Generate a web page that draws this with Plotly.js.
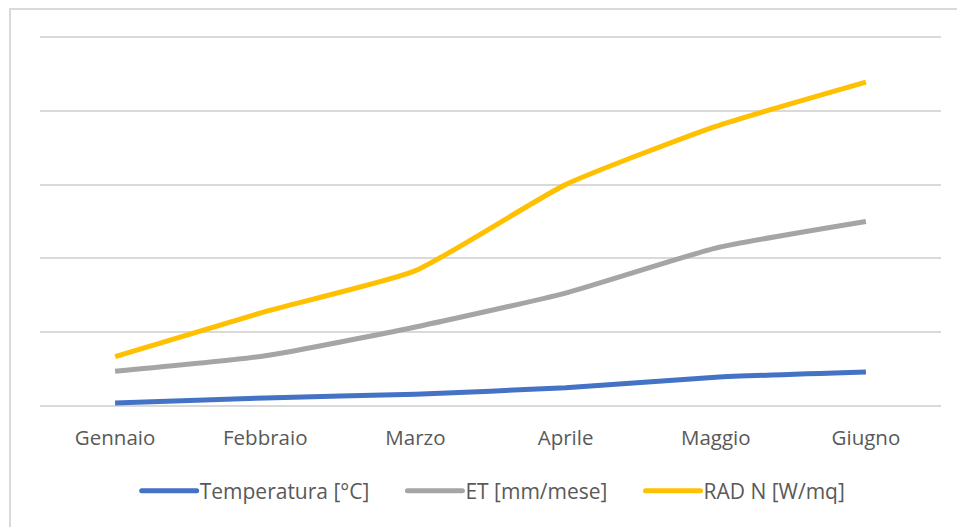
<!DOCTYPE html>
<html>
<head>
<meta charset="utf-8">
<script src="https://cdn.plot.ly/plotly-3.0.1.min.js"></script>
<style>
  html, body { margin: 0; padding: 0; background: #ffffff; }
  #wrap { position: relative; width: 957px; height: 527px; overflow: hidden; }
  #chart { position: absolute; left: 0; top: 0; width: 957px; height: 527px; }
  #frame { position: absolute; left: 9px; top: 8px; width: 1000px; height: 600px;
           border-top: 2px solid #D9D9D9; border-left: 2px solid #D9D9D9; pointer-events: none; }
</style>
</head>
<body>
<div id="wrap">
  <div id="chart"></div>
  <div id="frame"></div>
</div>
<script>
const months = ["Gennaio", "Febbraio", "Marzo", "Aprile", "Maggio", "Giugno"];
const temperatura = [2, 5.5, 8, 12.4, 19.5, 23];
const et = [23.5, 34, 53.5, 76.5, 107, 125];
const rad = [33.5, 64, 91.7, 150, 189.5, 219.5];

const seriesNames = ["Temperatura [°C]", "ET [mm/mese]", "RAD N [W/mq]"];
const seriesColors = ["#4472C4", "#A5A5A5", "#FFC000"];
const seriesValues = [temperatura, et, rad];

const traces = seriesValues.map((vals, i) => ({
  type: "scatter",
  mode: "lines",
  x: months,
  y: vals,
  name: seriesNames[i],
  line: { color: seriesColors[i], width: 5, shape: "spline", smoothing: 0.5 },
  hoverinfo: "skip"
}));

const layout = {
  width: 957,
  height: 527,
  margin: { l: 40, r: 16, t: 36, b: 121 },
  paper_bgcolor: "#ffffff",
  plot_bgcolor: "#ffffff",
  showlegend: true,
  font: { family: "Open Sans, Noto Sans, sans-serif", color: "#595959", size: 20.5 },
  xaxis: {
    type: "category",
    range: [-0.5, 5.5],
    showgrid: false,
    zeroline: false,
    showline: false,
    ticks: "",
    ticklabelstandoff: 17,
    tickfont: { size: 20.5, color: "#595959" },
    fixedrange: true
  },
  yaxis: {
    range: [0, 250.7],
    dtick: 50,
    tick0: 0,
    showgrid: true,
    gridcolor: "#D9D9D9",
    gridwidth: 2,
    zeroline: true,
    zerolinecolor: "#D9D9D9",
    zerolinewidth: 2,
    showticklabels: false,
    ticks: "",
    fixedrange: true
  },
  legend: {
    orientation: "h",
    x: 0.488,
    xanchor: "center",
    y: -0.23,
    yanchor: "middle",
    font: { size: 21, color: "#595959" },
    itemwidth: 81,
    traceorder: "normal",
    bgcolor: "rgba(0,0,0,0)"
  }
};

Plotly.newPlot("chart", traces, layout, { displayModeBar: false, staticPlot: true }).then(gd => {
  // widen legend line samples to match the reference (line ends just before the text)
  gd.querySelectorAll(".legend .traces").forEach(g => {
    const txt = g.querySelector("text.legendtext");
    const path = g.querySelector(".legendlines path");
    if (!txt || !path) return;
    const tx = parseFloat(txt.getAttribute("x")) || 40;
    path.setAttribute("d", "M" + (tx - 58) + ",0h55");
    path.style.strokeLinecap = "round";
  });
});
</script>
</body>
</html>
